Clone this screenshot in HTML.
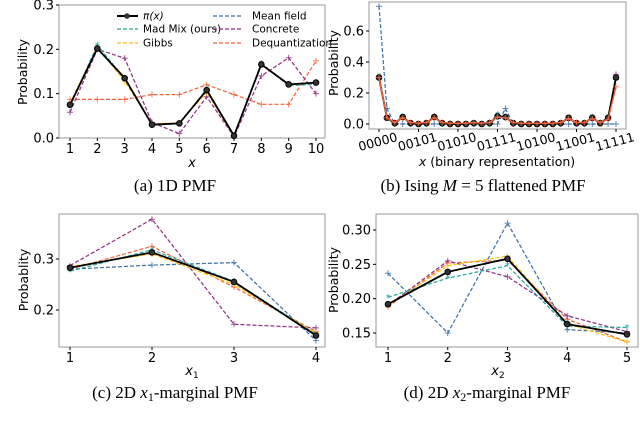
<!DOCTYPE html>
<html><head><meta charset="utf-8">
<style>
body{margin:0;background:#fff;overflow:hidden;}
svg{display:block;font-family:"DejaVu Sans","Liberation Sans",sans-serif;}
</style></head>
<body>
<svg id="fig" width="640" height="425" viewBox="0 0 640 425"></svg>
<script>
// Panel A data
const aCats=[1,2,3,4,5,6,7,8,9,10];
const aPi=[0.075,0.202,0.135,0.03,0.033,0.108,0.005,0.166,0.121,0.125];
const aMad=[0.073,0.21,0.133,0.029,0.032,0.11,0.006,0.168,0.118,0.121];
const aGibbs=[0.078,0.205,0.128,0.032,0.034,0.103,0.004,0.168,0.12,0.124];
const aMean=[0.074,0.203,0.134,0.031,0.033,0.107,0.005,0.166,0.121,0.125];
const aConc=[0.058,0.2,0.18,0.035,0.01,0.093,0.003,0.14,0.181,0.1];
const aDeq=[0.087,0.087,0.087,0.098,0.098,0.12,0.098,0.076,0.076,0.174];
const aYTicks=[0.0,0.1,0.2,0.3];
// Panel B data
const bPi=[0.30,0.04,0.005,0.045,0.005,0.0,0.005,0.045,0.005,0.0,0.0,0.0,0.005,0.0,0.005,0.05,0.045,0.005,0.0,0.0,0.0,0.0,0.0,0.005,0.04,0.005,0.005,0.04,0.005,0.04,0.30];
const bMad=[0.31,0.04,0.005,0.05,0.005,0.0,0.005,0.045,0.005,0.0,0.0,0.0,0.005,0.0,0.01,0.06,0.04,0.005,0.0,0.0,0.0,0.0,0.0,0.005,0.04,0.005,0.005,0.045,0.005,0.035,0.29];
const bMean=[0.76,0.1,0.0,0.0,0.0,0.0,0.0,0.0,0.0,0.0,0.0,0.0,0.0,0.0,0.0,0.0,0.1,0.0,0.0,0.0,0.0,0.0,0.0,0.0,0.0,0.0,0.0,0.0,0.0,0.0,0.0];
const bConc=[0.30,0.04,0.005,0.04,0.005,0.0,0.005,0.05,0.005,0.0,0.0,0.0,0.005,0.0,0.005,0.045,0.04,0.005,0.0,0.0,0.0,0.0,0.0,0.005,0.035,0.005,0.005,0.04,0.005,0.03,0.32];
const bDeq=[0.30,0.04,0.01,0.04,0.01,0.005,0.01,0.04,0.01,0.005,0.005,0.005,0.01,0.005,0.01,0.045,0.04,0.01,0.005,0.005,0.005,0.005,0.005,0.01,0.035,0.01,0.01,0.035,0.01,0.03,0.24];
const bTickIdx=[0,5,10,15,20,25,30];
const bTickLabels=["00000","00101","01010","01111","10100","11001","11111"];
const bYTicks=[0.0,0.2,0.4,0.6];
// Panel C data
const cCats=[1,2,3,4];
const cPi=[0.283,0.313,0.255,0.15];
const cMad=[0.276,0.318,0.256,0.152];
const cGibbs=[0.285,0.31,0.25,0.155];
const cMean=[0.28,0.288,0.293,0.14];
const cConc=[0.287,0.378,0.172,0.165];
const cDeq=[0.28,0.325,0.245,0.158];
const cYTicks=[0.2,0.3];
// Panel D data
const dCats=[1,2,3,4,5];
const dPi=[0.192,0.239,0.258,0.163,0.148];
const dMad=[0.202,0.23,0.248,0.16,0.158];
const dGibbs=[0.19,0.248,0.262,0.163,0.137];
const dMean=[0.237,0.15,0.31,0.155,0.15];
const dConc=[0.19,0.255,0.232,0.175,0.152];
const dDeq=[0.188,0.252,0.256,0.17,0.137];
const dYTicks=[0.15,0.20,0.25,0.30];

const NS="http://www.w3.org/2000/svg";
const svg=document.getElementById('fig');
function mk(tag,attrs,parent){const e=document.createElementNS(NS,tag);for(const k in attrs)e.setAttribute(k,attrs[k]);(parent||svg).appendChild(e);return e;}
const COL={pi:'#000',mad:'#26a69a',gibbs:'#ffc107',mean:'#3a6ea5',conc:'#8e2c7f',deq:'#f4623a'};
const SERIF='"Liberation Serif", serif';

function panel(name,box,xd,xr,yd,yr){
  const g=mk('g',{});
  
  
  const r=mk('rect',{x:box[0],y:box[1],width:box[2]-box[0],height:box[3]-box[1],fill:'none',stroke:'#999','stroke-width':1},g);
  
  
  const X=v=>xr[0]+(v-xd[0])/(xd[1]-xd[0])*(xr[1]-xr[0]);
  const Y=v=>yr[0]+(v-yd[0])/(yd[1]-yd[0])*(yr[1]-yr[0]);
  return {g,X,Y,box};
}
function series(p,xs,ys,key,name,marker,w,dash){
  const pts=xs.map((x,i)=>p.X(x).toFixed(1)+','+p.Y(ys[i]).toFixed(1)).join(' ');
  const gg=mk('g',{},p.g);
  
  
  mk('polyline',{points:pts,fill:'none',stroke:COL[key],'stroke-width':w,'stroke-dasharray':dash||'none'},gg);
  xs.forEach((x,i)=>{const cx=p.X(x),cy=p.Y(ys[i]);
    if(marker==='o')mk('circle',{cx,cy,r:2.8,fill:'#333',stroke:'#000'},gg);
    else if(marker==='*')mk('text',{x:cx,y:cy+3.5,'text-anchor':'middle','font-size':10,fill:COL[key]},gg).textContent='*';
    else {mk('path',{d:`M${cx-3},${cy}H${cx+3}M${cx},${cy-3}V${cy+3}`,stroke:COL[key],'stroke-width':1,opacity:0.8},gg);}
  });
}
function yticks(p,ticks,fmt,fs){
  ticks.forEach(t=>{const y=p.Y(t);
    mk('line',{x1:p.box[0]-3,x2:p.box[0],y1:y,y2:y,stroke:'#000'},p.g);
    const tx=mk('text',{x:p.box[0]-5,y:y+4.5,'text-anchor':'end','font-size':fs},p.g);tx.textContent=t.toFixed(fmt);
    });
}
function xticks(p,cats,fs){
  cats.forEach(c=>{const x=p.X(c);
    mk('line',{x1:x,x2:x,y1:p.box[3],y2:p.box[3]+3,stroke:'#000'},p.g);
    const tx=mk('text',{x:x,y:p.box[3]+15,'text-anchor':'middle','font-size':fs},p.g);tx.textContent=c;
    });
}
function ylabel(p,x,y,txt,fs){
  const t=mk('text',{x:0,y:0,transform:`translate(${x},${y}) rotate(-90)`,'text-anchor':'middle','font-size':fs},p.g);t.textContent=txt;
  
}
function allSeries(p,xs,d){
  series(p,xs,d[5],'deq','dequantization-line','+',1.2,'4,2');
  series(p,xs,d[4],'conc','concrete-line','+',1.2,'4,2');
  series(p,xs,d[3],'mean','mean-field-line','+',1.2,'4,2');
  series(p,xs,d[2],'gibbs','gibbs-line','+',1.2,'4,2');
  series(p,xs,d[1],'mad','mad-mix-line','*',1.2,'4,2');
  series(p,xs,d[0],'pi','pi-line','o',1.8);
}
function cap(x,y,html,name){
  const t=mk('text',{x,y,'text-anchor':'middle','font-family':SERIF,'font-size':17});t.innerHTML=html;
  
}

// Panel A
const pa=panel('panel-a-1d-pmf',[59,5,325,138],[1,10],[70,316],[0,0.3],[138,5]);
allSeries(pa,aCats,[aPi,aMad,aGibbs,aMean,aConc,aDeq]);
yticks(pa,aYTicks,1,13);xticks(pa,aCats,13);
ylabel(pa,27,72,'Probability',12.5);
{const t=mk('text',{x:192,y:167,'text-anchor':'middle','font-size':13,'font-style':'italic'},pa.g);t.textContent='x';
}
// legend
const leg=[['pi','π(x)','o',true,117,16,143],['mad','Mad Mix (ours)','*',false,117,29,143],['gibbs','Gibbs','+',false,117,43,143],
['mean','Mean field','+',false,213,16,252],['conc','Concrete','+',false,213,29,252],['deq','Dequantization','+',false,213,43,252]];
const lg=mk('g',{},pa.g);


leg.forEach(l=>{const e=mk('g',{},lg);
  
  
  const len=l[4]===117?21:28;
  mk('line',{x1:l[4],x2:l[4]+len,y1:l[5],y2:l[5],stroke:COL[l[0]],'stroke-width':l[3]?2:1.3,'stroke-dasharray':l[3]?'none':'4,2'},e);
  if(l[2]==='o')mk('circle',{cx:l[4]+10,cy:l[5],r:2.8,fill:'#333'},e);
  const t=mk('text',{x:l[6],y:l[5]+3.5,'font-size':10.5,'font-style':l[3]?'italic':'normal'},e);t.textContent=l[1];});

// Panel B
const bIdx=bPi.map((_,i)=>i);
const pb=panel('panel-b-ising-pmf',[369,2,626,129],[0,30],[379,616],[0,0.2],[124,93]);
series(pb,bIdx,bMean,'mean','mean-field-line','+',1.2,'4,2');
series(pb,bIdx,bMad,'mad','mad-mix-line','*',1.2,'4,2');
series(pb,bIdx,bConc,'conc','concrete-line','+',1.2,'4,2');
series(pb,bIdx,bPi,'pi','pi-line','o',1.8);
series(pb,bIdx,bDeq,'deq','dequantization-line','+',1.4);
yticks(pb,bYTicks,1,13);
bTickIdx.forEach((ix,i)=>{const x=pb.X(ix);
  mk('line',{x1:x,x2:x,y1:129,y2:132,stroke:'#000'},pb.g);
  const t=mk('text',{x:0,y:0,transform:`translate(${x},${146}) rotate(-15)`,'text-anchor':'middle','font-size':12.5},pb.g);t.textContent=bTickLabels[i];
  });
ylabel(pb,338,63,'Probability',12.5);
{const t=mk('text',{x:497,y:166,'text-anchor':'middle','font-size':12.5},pb.g);t.innerHTML='<tspan font-style="italic">x</tspan> (binary representation)';
}

// Panel C
const pc=panel('panel-c-x1-marginal',[59,214,325,347],[1,4],[70,316],[0.2,0.3],[310,259]);
allSeries(pc,cCats,[cPi,cMad,cGibbs,cMean,cConc,cDeq]);
yticks(pc,cYTicks,1,13);xticks(pc,cCats,13);
ylabel(pc,28,280,'Probablity',12.5);
{const t=mk('text',{x:192,y:375,'text-anchor':'middle','font-size':13},pc.g);t.innerHTML='<tspan font-style="italic">x</tspan><tspan font-size="9" dy="3">1</tspan>';
}

// Panel D
const pd=panel('panel-d-x2-marginal',[376,214,638,347],[1,5],[388,627],[0.15,0.30],[333,230]);
allSeries(pd,dCats,[dPi,dMad,dGibbs,dMean,dConc,dDeq]);
yticks(pd,dYTicks,2,13);xticks(pd,dCats,13);
ylabel(pd,338,280,'Probability',12.5);
{const t=mk('text',{x:498,y:375,'text-anchor':'middle','font-size':13},pd.g);t.innerHTML='<tspan font-style="italic">x</tspan><tspan font-size="9" dy="3">2</tspan>';
}

cap(175,191,'(a) 1D PMF','caption-a');
cap(483,191,'(b) Ising <tspan font-style="italic">M</tspan> = 5 flattened PMF','caption-b');
cap(175,398,'(c) 2D <tspan font-style="italic">x</tspan><tspan font-size="12" dy="3">1</tspan><tspan dy="-3">-marginal PMF</tspan>','caption-c');
cap(487,398,'(d) 2D <tspan font-style="italic">x</tspan><tspan font-size="12" dy="3">2</tspan><tspan dy="-3">-marginal PMF</tspan>','caption-d');
{const t=mk('text',{x:0,y:437,'font-size':17,fill:'#aaa','font-family':SERIF});
t.textContent='Figure 3: Exact and approximated PMFs of the 1D, 2D and Ising model experiments';
}
</script>
</body></html>
